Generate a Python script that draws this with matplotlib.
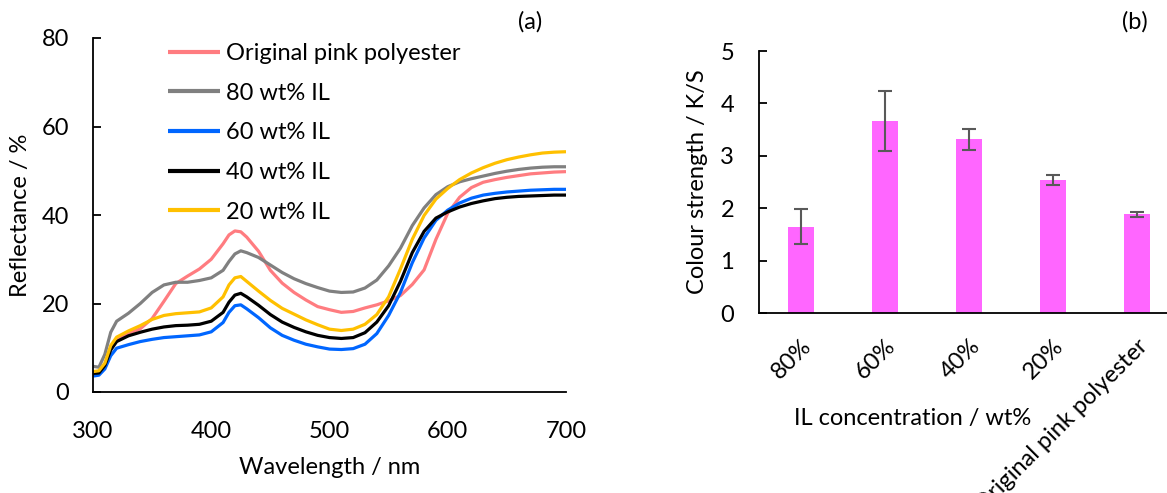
import matplotlib
matplotlib.use("Agg")
import matplotlib.pyplot as plt

plt.rcParams['font.family'] = ['Lato', 'DejaVu Sans']

# ---- (a) reflectance spectra ----
wavelength = [300, 305, 310, 315, 320, 330, 340, 350, 360, 370, 380, 390, 400,
              410, 415, 420, 425, 430, 440, 450, 460, 470, 480, 490, 500, 510,
              520, 530, 540, 550, 560, 570, 580, 590, 600, 610, 620, 630, 640,
              650, 660, 670, 680, 690, 700]

refl_original = [4.5, 4.3, 6.0, 10.0, 12.0, 13.2, 14.3, 16.6, 20.5, 24.5, 26.2, 27.8, 30.0,
                 33.5, 35.5, 36.4, 36.2, 35.0, 31.8, 27.5, 24.6, 22.5, 20.8, 19.3, 18.6, 18.0,
                 18.2, 19.0, 19.7, 20.6, 21.8, 24.3, 27.6, 34.5, 40.4, 44.0, 46.2, 47.4, 48.0,
                 48.5, 48.9, 49.3, 49.5, 49.7, 49.8]
refl_80 = [5.8, 5.6, 8.5, 13.5, 16.0, 17.8, 20.0, 22.5, 24.2, 24.8, 24.8, 25.2, 25.8,
           27.5, 29.5, 31.2, 31.9, 31.5, 30.4, 28.7, 27.0, 25.6, 24.5, 23.6, 22.8, 22.5,
           22.6, 23.5, 25.3, 28.5, 32.5, 37.6, 41.6, 44.6, 46.4, 47.5, 48.2, 48.8, 49.4,
           49.9, 50.3, 50.6, 50.8, 50.9, 50.9]
refl_60 = [3.6, 3.8, 5.2, 8.2, 9.9, 10.7, 11.4, 11.9, 12.3, 12.5, 12.7, 12.9, 13.6,
           15.7, 18.0, 19.5, 19.7, 18.8, 16.8, 14.5, 12.8, 11.7, 10.8, 10.2, 9.7, 9.6,
           9.8, 10.8, 13.2, 17.3, 22.5, 29.2, 34.8, 38.8, 41.1, 42.7, 43.8, 44.5, 44.9,
           45.2, 45.4, 45.6, 45.7, 45.8, 45.8]
refl_40 = [4.2, 4.3, 6.0, 9.5, 11.4, 12.7, 13.5, 14.2, 14.7, 15.0, 15.1, 15.3, 16.0,
           18.0, 20.3, 21.9, 22.3, 21.5, 19.6, 17.5, 15.8, 14.6, 13.6, 12.8, 12.3, 12.1,
           12.3, 13.4, 15.8, 19.5, 25.0, 31.5, 36.3, 39.3, 40.7, 41.8, 42.6, 43.2, 43.7,
           44.0, 44.2, 44.3, 44.4, 44.5, 44.5]
refl_20 = [4.6, 4.8, 6.5, 10.5, 12.4, 13.8, 15.0, 16.4, 17.3, 17.7, 17.9, 18.1, 19.0,
           21.5, 24.2, 25.8, 26.1, 25.0, 22.8, 20.7, 18.9, 17.6, 16.3, 15.2, 14.2, 13.9,
           14.2, 15.3, 17.5, 21.5, 27.8, 34.5, 39.9, 43.6, 46.0, 48.0, 49.5, 50.7, 51.7,
           52.5, 53.1, 53.6, 54.0, 54.2, 54.3]

series_labels = ['Original pink polyester', '80 wt% IL', '60 wt% IL',
                 '40 wt% IL', '20 wt% IL']
series_colors = ['#FF7C80', '#808080', '#0066FF', '#000000', '#FFC000']

# ---- (b) colour strength ----
categories = ['80%', '60%', '40%', '20%', 'Original pink polyester']
ks_values = [1.65, 3.66, 3.32, 2.54, 1.88]
ks_errors = [0.33, 0.57, 0.20, 0.10, 0.05]

W, H = 1167, 493
fig = plt.figure(figsize=(W / 100, H / 100), dpi=100)


def px_axes(x0, y0, x1, y1):
    """Axes from pixel box (left, top, right, bottom)."""
    return fig.add_axes([x0 / W, 1 - y1 / H, (x1 - x0) / W, (y1 - y0) / H])


FS = 17

# panel (a)
ax1 = px_axes(93, 38, 566, 392)
for vals, lab, col in zip([refl_original, refl_80, refl_60, refl_40, refl_20],
                          series_labels, series_colors):
    ax1.plot(wavelength, vals, color=col, lw=2.3, label=lab, solid_capstyle='butt')
ax1.set_xlim(300, 700)
ax1.set_ylim(0, 80)
ax1.set_xticks([300, 400, 500, 600, 700])
ax1.set_yticks([0, 20, 40, 60, 80])
for s in ['top', 'right']:
    ax1.spines[s].set_visible(False)
for s in ['left', 'bottom']:
    ax1.spines[s].set_linewidth(1.3)
ax1.tick_params(axis='y', direction='in', length=6, width=1.3, labelsize=FS, pad=17)
ax1.tick_params(axis='x', length=0, labelsize=FS, pad=21)
leg = ax1.legend(loc='upper left', bbox_to_anchor=(168 / W, 1 - 43 / H),
                 bbox_transform=fig.transFigure, frameon=False, fontsize=FS,
                 handlelength=2.2, handletextpad=0.25, labelspacing=0.79,
                 borderaxespad=0, borderpad=0)
for h in leg.get_lines():
    h.set_linewidth(3)
fig.text(330 / W, 1 - 467 / H, 'Wavelength / nm', ha='center', va='center', fontsize=FS)
fig.text(21 / W, 1 - 215 / H, 'Reflectance / %', ha='center', va='center',
         rotation=90, fontsize=FS)
fig.text(530 / W, 1 - 22 / H, '(a)', ha='center', va='center', fontsize=FS)

# panel (b)
ax2 = px_axes(759, 51, 1179, 313)
xpos = list(range(len(categories)))
ax2.bar(xpos, ks_values, width=0.31, color='#FF66FF', zorder=2)
ax2.errorbar(xpos, ks_values, yerr=ks_errors, fmt='none', ecolor='#595959',
             elinewidth=1.5, capsize=4.7, capthick=1.5, zorder=3)
ax2.set_xlim(-0.5, 4.5)
ax2.set_ylim(0, 5)
ax2.set_yticks([0, 1, 2, 3, 4, 5])
ax2.set_xticks(xpos)
ax2.set_xticklabels(categories, rotation=45, ha='right', va='top',
                    rotation_mode='anchor', fontsize=FS)
for s in ['top', 'right']:
    ax2.spines[s].set_visible(False)
for s in ['left', 'bottom']:
    ax2.spines[s].set_linewidth(1.3)
ax2.tick_params(axis='y', direction='in', length=6, width=1.3, labelsize=FS, pad=18)
ax2.tick_params(axis='x', length=0, pad=16)
fig.text(913 / W, 1 - 418 / H, 'IL concentration / wt%', ha='center', va='center',
         fontsize=FS)
fig.text(698 / W, 1 - 182 / H, 'Colour strength / K/S', ha='center', va='center',
         rotation=90, fontsize=FS)
fig.text(1135 / W, 1 - 22 / H, '(b)', ha='center', va='center', fontsize=FS)

fig.savefig('out.png', dpi=100)
